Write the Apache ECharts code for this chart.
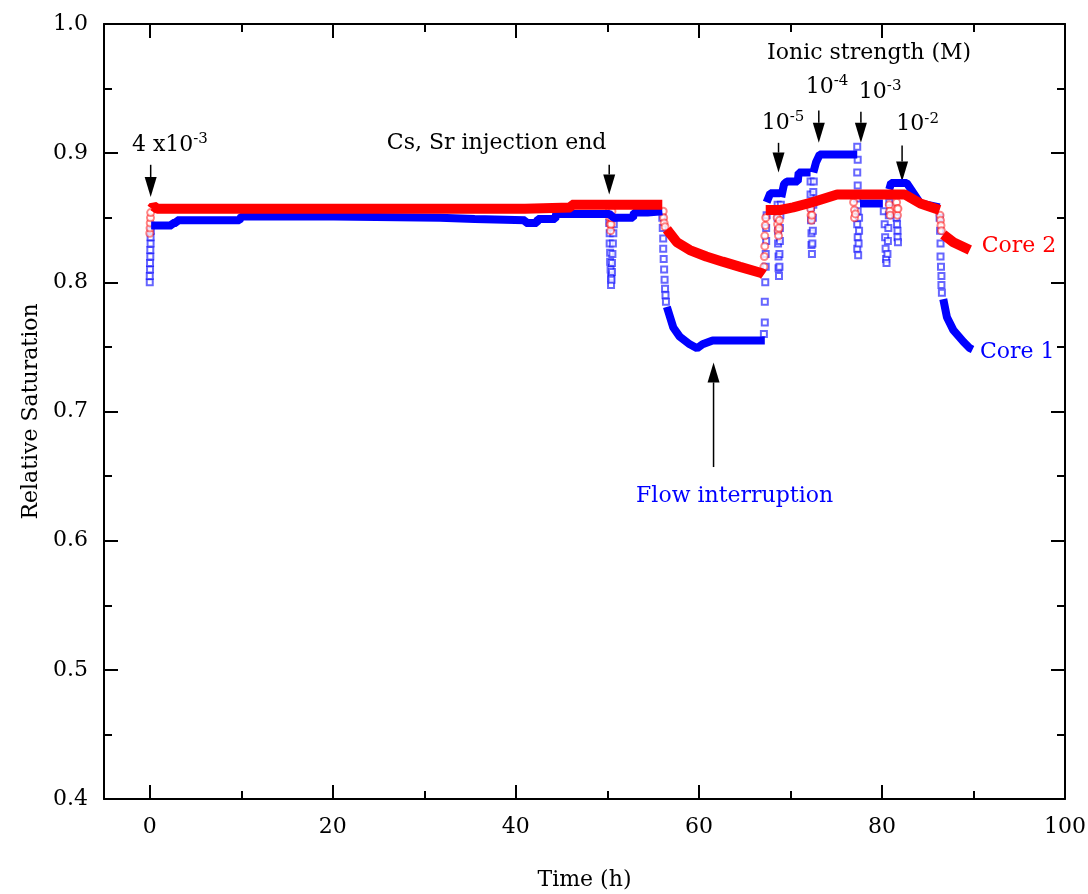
<!DOCTYPE html>
<html>
<head>
<meta charset="utf-8">
<script src="https://cdn.jsdelivr.net/npm/echarts@6/dist/echarts.min.js"></script>
<style>
  html, body { margin: 0; padding: 0; background: #fff; }
  #chart { width: 1088px; height: 894px; }
</style>
</head>
<body>
<div id="chart"></div>
<script>
// x ticks (h)
var xMajor = [0, 20, 40, 60, 80, 100];
var xMinor = [10, 30, 50, 70, 90];

// Core 1 - dense part, drawn as thick band (null = break)
var core1Line = [
  [0.15, 0.844], [2.4, 0.844], [2.5, 0.846], [2.9, 0.846], [3.0, 0.848], [9.8, 0.848],
  [10.0, 0.851], [20.1, 0.851], [20.2, 0.850], [31.7, 0.850], [31.8, 0.849], [35.5, 0.849],
  [35.6, 0.848], [41.0, 0.848], [41.1, 0.846], [42.3, 0.846], [42.4, 0.849], [44.3, 0.849],
  [44.4, 0.853], [50.2, 0.853], [50.7, 0.850], [52.8, 0.850], [52.9, 0.854], [54.4, 0.854],
  [54.5, 0.855], [56.0, 0.855], null,
  [56.5, 0.781], [57.2, 0.765], [57.9, 0.758], [59.0, 0.752], [59.8, 0.749], [60.4, 0.752],
  [61.5, 0.755], [67.2, 0.755], null,
  [67.4, 0.862], [67.8, 0.869], [68.9, 0.869], null,
  [69.0, 0.866], [69.3, 0.876], [69.6, 0.878], [70.8, 0.878], [70.9, 0.885], [72.2, 0.885], null,
  [72.5, 0.885], [72.8, 0.893], [73.2, 0.899], [77.3, 0.899], null,
  [77.6, 0.861], [80.1, 0.861], null,
  [80.8, 0.872], [81.0, 0.877], [82.7, 0.877], [84.2, 0.861], [86.3, 0.858], null,
  [86.7, 0.787], [87.1, 0.773], [87.8, 0.763], [88.9, 0.754], [89.6, 0.749], [89.9, 0.748]
];

// Core 1 - sparse points in the fast dips / jumps
var core1Dots = [
  [0, 0.800], [0, 0.805], [0.03, 0.810], [0.03, 0.815], [0.06, 0.820], [0.06, 0.825],
  [0.09, 0.830], [0.09, 0.835], [0.12, 0.840],
  [50.2, 0.846], [50.25, 0.838], [50.25, 0.830], [50.3, 0.823], [50.3, 0.816], [50.35, 0.810],
  [50.4, 0.804], [50.4, 0.798], [50.45, 0.802], [50.5, 0.808], [50.5, 0.815], [50.55, 0.822],
  [50.6, 0.830], [50.65, 0.838], [50.7, 0.845],
  [56.0, 0.850], [56.05, 0.842], [56.1, 0.834], [56.1, 0.826], [56.15, 0.818], [56.2, 0.810],
  [56.25, 0.802], [56.3, 0.795], [56.35, 0.790], [56.4, 0.785],
  [67.1, 0.760], [67.2, 0.769], [67.2, 0.785], [67.25, 0.800], [67.3, 0.812], [67.3, 0.822],
  [67.35, 0.832], [67.35, 0.842], [67.4, 0.852],
  [68.6, 0.860], [68.6, 0.850], [68.65, 0.840], [68.65, 0.830], [68.7, 0.820], [68.7, 0.811],
  [68.75, 0.805], [68.8, 0.812], [68.8, 0.822], [68.85, 0.832], [68.85, 0.842], [68.9, 0.852], [68.95, 0.860],
  [72.2, 0.878], [72.2, 0.868], [72.25, 0.858], [72.25, 0.848], [72.3, 0.838], [72.3, 0.829],
  [72.35, 0.822], [72.4, 0.830], [72.45, 0.840], [72.45, 0.850], [72.5, 0.860], [72.5, 0.870], [72.55, 0.878],
  [77.3, 0.905], [77.35, 0.895], [77.3, 0.885], [77.35, 0.875], [77.3, 0.865], [77.35, 0.855],
  [77.3, 0.845], [77.35, 0.835], [77.3, 0.826], [77.4, 0.821], [77.45, 0.830], [77.5, 0.840], [77.5, 0.850],
  [80.2, 0.855], [80.3, 0.845], [80.35, 0.835], [80.4, 0.826], [80.45, 0.818], [80.5, 0.815],
  [80.6, 0.822], [80.65, 0.832], [80.7, 0.842], [80.75, 0.852], [80.8, 0.862],
  [81.6, 0.850], [81.65, 0.845], [81.7, 0.840], [81.7, 0.835], [81.75, 0.831],
  [86.3, 0.850], [86.35, 0.840], [86.4, 0.830], [86.4, 0.820], [86.45, 0.812], [86.5, 0.805],
  [86.5, 0.798], [86.55, 0.792]
];

// Core 2 - dense part
var core2Line = [
  [0.2, 0.857], [0.4, 0.859], [0.8, 0.857], [41.0, 0.857], [41.1, 0.858], [46.0, 0.858],
  [46.1, 0.860], [56.0, 0.860], null,
  [56.5, 0.841], [57.6, 0.831], [59.0, 0.825], [60.8, 0.820], [62.6, 0.816], [64.5, 0.812],
  [66.9, 0.807], [67.1, 0.806], null,
  [67.3, 0.856], [68.9, 0.856], [70.3, 0.858], [72.4, 0.862], [75.1, 0.868], [82.5, 0.868],
  [84.2, 0.861], [86.3, 0.856], null,
  [86.7, 0.837], [87.8, 0.831], [89.6, 0.825]
];

// Core 2 - sparse points
var core2Dots = [
  [0, 0.838], [0.03, 0.842], [0.05, 0.846], [0.08, 0.850], [0.1, 0.854],
  [50.2, 0.855], [50.25, 0.850], [50.3, 0.845], [50.35, 0.840], [50.4, 0.845], [50.45, 0.850], [50.5, 0.855],
  [56.1, 0.855], [56.15, 0.850], [56.2, 0.846], [56.3, 0.843],
  [67.1, 0.812], [67.15, 0.820], [67.2, 0.828], [67.2, 0.836], [67.25, 0.844], [67.3, 0.850],
  [68.55, 0.850], [68.6, 0.845], [68.65, 0.840], [68.7, 0.836], [68.75, 0.842], [68.8, 0.848],
  [72.2, 0.857], [72.25, 0.852], [72.3, 0.848], [72.35, 0.852],
  [76.9, 0.862], [77.0, 0.856], [77.0, 0.850], [77.1, 0.853],
  [80.8, 0.860], [80.85, 0.855], [80.9, 0.852],
  [81.6, 0.862], [81.65, 0.857], [81.7, 0.852], [81.75, 0.857],
  [86.35, 0.852], [86.4, 0.848], [86.45, 0.844], [86.5, 0.840]
];

var FONT = "DejaVu Serif";
var chart = echarts.init(document.getElementById("chart"));

var tickLine = { color: "#000", width: 2 };
function xAx(pos, ticks, len, withLine, withLabel) {
  return {
    type: "value", min: -5, max: 100, position: pos,
    axisLine: { show: withLine, onZero: false, lineStyle: { color: "#000", width: 2 } },
    splitLine: { show: false },
    axisTick: { show: true, inside: true, length: len, lineStyle: tickLine, customValues: ticks },
    axisLabel: withLabel
      ? { customValues: ticks, margin: 17, fontFamily: FONT, fontSize: 22, color: "#000" }
      : { show: false }
  };
}

var xBottom = xAx("bottom", xMajor, 14, true, true);
xBottom.name = "Time (h)";
xBottom.nameLocation = "middle";
xBottom.nameGap = 70;
xBottom.nameTextStyle = { fontFamily: FONT, fontSize: 22, color: "#000" };

function yAx(pos, withLabel) {
  var a = {
    type: "value", min: 0.4, max: 1.0, interval: 0.1, position: pos,
    axisLine: { show: true, onZero: false, lineStyle: { color: "#000", width: 2 } },
    splitLine: { show: false },
    axisTick: { show: true, inside: true, length: 14, lineStyle: tickLine },
    minorTick: { show: true, splitNumber: 2, length: 8, lineStyle: tickLine },
    axisLabel: withLabel
      ? { margin: 16, fontFamily: FONT, fontSize: 22, color: "#000",
          formatter: function (v) { return v.toFixed(1); } }
      : { show: false }
  };
  if (withLabel) {
    a.name = "Relative Saturation";
    a.nameLocation = "middle";
    a.nameGap = 60;
    a.nameTextStyle = { fontFamily: FONT, fontSize: 22, color: "#000" };
  }
  return a;
}

var option = {
  animation: false,
  backgroundColor: "#fff",
  grid: { left: 104, right: 23, top: 24, bottom: 95, outerBoundsMode: "none", containLabel: false },
  xAxis: [
    xBottom,
    xAx("bottom", xMinor, 8, false, false),
    xAx("top", xMajor, 14, true, false),
    xAx("top", xMinor, 8, false, false)
  ],
  yAxis: [yAx("left", true), yAx("right", false)],
  series: [
    {
      name: "Core 1 dips", type: "scatter", data: core1Dots,
      symbol: "emptyRect", symbolSize: 6,
      itemStyle: { color: "rgba(0,0,255,0.75)", borderWidth: 1 }
    },
    {
      name: "Core 1", type: "line", data: core1Line, showSymbol: false,
      connectNulls: false,
      lineStyle: { color: "#0000ff", width: 8 }
    },
    {
      name: "Core 2 dips", type: "scatter", data: core2Dots,
      symbol: "emptyCircle", symbolSize: 7,
      itemStyle: { color: "rgba(255,0,0,0.6)", borderWidth: 1 }
    },
    {
      name: "Core 2", type: "line", data: core2Line, showSymbol: false,
      connectNulls: false,
      lineStyle: { color: "#ff0000", width: 10 }
    }
  ]
};
chart.setOption(option);

// annotations: arrows [x0, y0, x1, y1] in data units, texts at data positions
var arrows = [
  [0.1, 0.891, 0.1, 0.866],
  [50.2, 0.891, 50.2, 0.868],
  [68.7, 0.908, 68.7, 0.885],
  [73.1, 0.933, 73.1, 0.908],
  [77.7, 0.932, 77.7, 0.908],
  [82.2, 0.906, 82.2, 0.878],
  [61.6, 0.657, 61.6, 0.738]
];
var notes = [
  { x: 2.2, y: 0.906, t: "4 x10{s|-3}", c: "#000", a: "center" },
  { x: 37.9, y: 0.908, t: "Cs, Sr injection end", c: "#000", a: "center" },
  { x: 78.6, y: 0.977, t: "Ionic strength (M)", c: "#000", a: "center" },
  { x: 69.2, y: 0.923, t: "10{s|-5}", c: "#000", a: "center" },
  { x: 74.0, y: 0.951, t: "10{s|-4}", c: "#000", a: "center" },
  { x: 79.8, y: 0.947, t: "10{s|-3}", c: "#000", a: "center" },
  { x: 83.9, y: 0.922, t: "10{s|-2}", c: "#000", a: "center" },
  { x: 63.9, y: 0.634, t: "Flow interruption", c: "#0000ff", a: "center" },
  { x: 90.9, y: 0.828, t: "Core 2", c: "#ff0000", a: "left" },
  { x: 90.7, y: 0.746, t: "Core 1", c: "#0000ff", a: "left" }
];

function px(x, y) {
  return chart.convertToPixel({ xAxisIndex: 0, yAxisIndex: 0 }, [x, y]);
}

var elements = [];
arrows.forEach(function (ar) {
  var p0 = px(ar[0], ar[1]), p1 = px(ar[2], ar[3]);
  var dx = p1[0] - p0[0], dy = p1[1] - p0[1];
  var len = Math.sqrt(dx * dx + dy * dy);
  var ux = dx / len, uy = dy / len;
  var hl = 20, hw = 6;
  var bx = p1[0] - ux * hl, by = p1[1] - uy * hl;
  elements.push({
    type: "line",
    shape: { x1: p0[0], y1: p0[1], x2: bx, y2: by },
    style: { stroke: "#000", lineWidth: 1.5 }
  });
  elements.push({
    type: "polygon",
    shape: { points: [[bx - uy * hw, by + ux * hw], [bx + uy * hw, by - ux * hw], [p1[0], p1[1]]] },
    style: { fill: "#000" }
  });
});
notes.forEach(function (n) {
  var p = px(n.x, n.y);
  elements.push({
    type: "text",
    x: p[0], y: p[1],
    style: {
      text: n.t,
      fill: n.c,
      font: "22px '" + FONT + "'",
      align: n.a,
      verticalAlign: "middle",
      rich: {
        s: { fontSize: 15, fontFamily: FONT, fill: n.c, verticalAlign: "bottom", padding: [0, 0, 12, 0] }
      }
    }
  });
});
chart.setOption({ graphic: elements });
</script>
</body>
</html>
